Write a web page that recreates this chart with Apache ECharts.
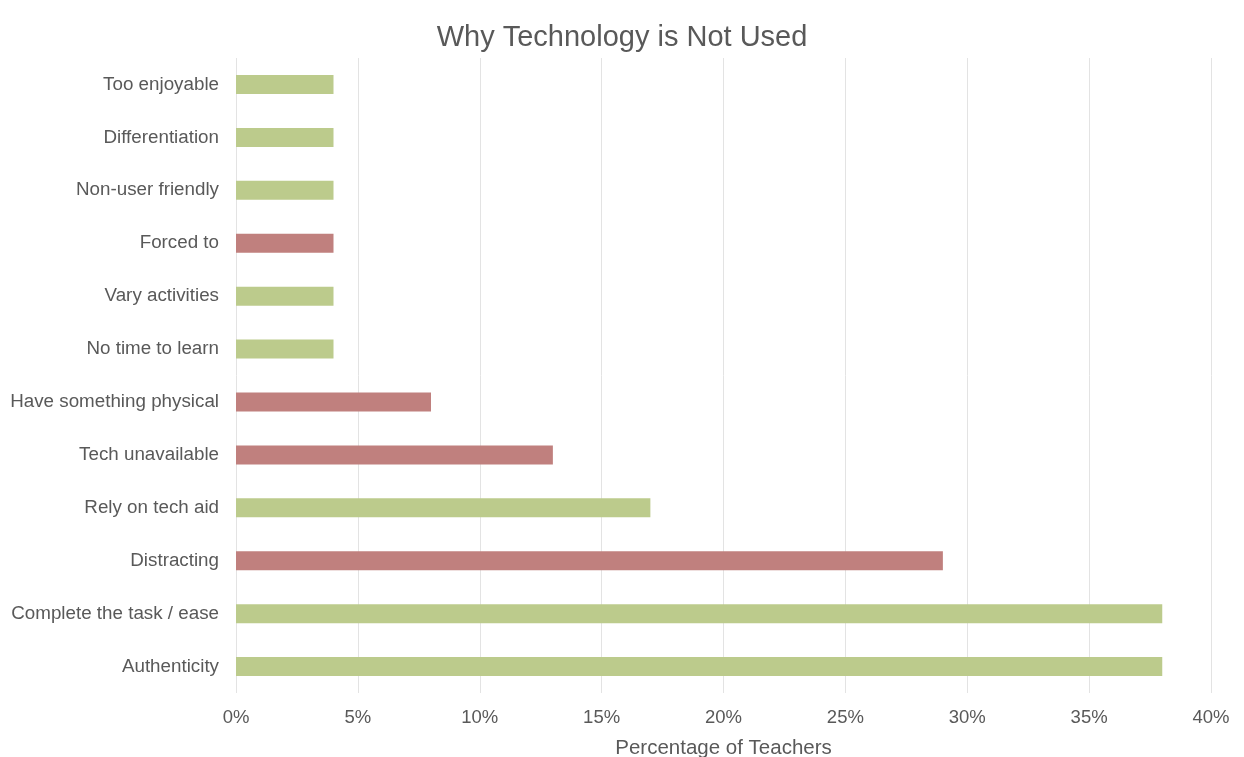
<!DOCTYPE html>
<html><head><meta charset="utf-8">
<script src="https://cdn.jsdelivr.net/npm/echarts@6/dist/echarts.min.js"></script>
<style>html,body{margin:0;padding:0;background:#fff}#c{width:1244px;height:757px}</style>
</head><body><div id="c"></div>
<script>
const categories = ["Authenticity","Complete the task / ease","Distracting","Rely on tech aid","Tech unavailable","Have something physical","No time to learn","Vary activities","Forced to","Non-user friendly","Differentiation","Too enjoyable"];
const values = [38,38,29,17,13,8,4,4,4,4,4,4];
const barGroup = ["g","g","r","g","r","r","g","g","r","g","g","g"];
const xTicks = [0,5,10,15,20,25,30,35,40];
const colors = {g:"#bccb8c", r:"#c0807e"};
const chart = echarts.init(document.getElementById('c'));
chart.setOption({
  animation:false,
  title:{text:"Why Technology is Not Used",left:"center",top:18,textStyle:{fontFamily:"Liberation Sans, Arial",fontSize:29,fontWeight:"normal",color:"#595959"}},
  grid:{left:236,right:33,top:58,bottom:64,containLabel:false,outerBoundsMode:'none'},
  xAxis:{type:"value",min:0,max:40,interval:5,
    name:"Percentage of Teachers",nameLocation:"middle",nameGap:45,
    nameTextStyle:{fontFamily:"Liberation Sans, Arial",fontSize:20.5,color:"#595959"},
    axisLine:{show:false},axisTick:{show:false},
    axisLabel:{formatter:v=>xTicks.includes(v)?v+"%":"",margin:15,fontFamily:"Liberation Sans, Arial",fontSize:18.5,color:"#595959"},
    splitLine:{show:true,lineStyle:{color:"#e3e3e3",width:1}}},
  yAxis:{type:"category",data:categories,
    axisLine:{show:false},axisTick:{show:false},
    axisLabel:{margin:17,fontFamily:"Liberation Sans, Arial",fontSize:18.8,color:"#595959"}},
  series:[{type:"bar",barWidth:19,
    data:values.map((v,i)=>({value:v,itemStyle:{color:colors[barGroup[i]]}}))}]
});
</script></body></html>
